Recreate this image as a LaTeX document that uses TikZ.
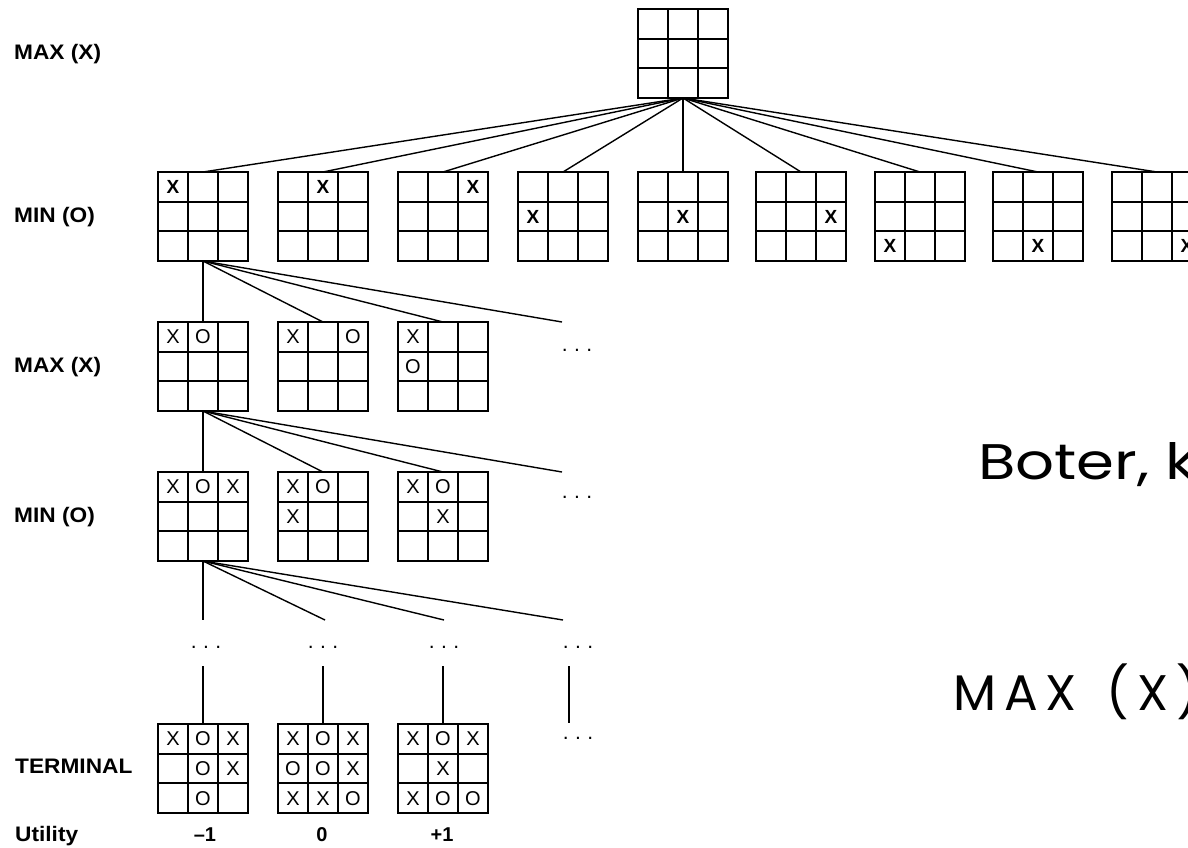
\documentclass[tikz,border=0pt]{standalone}
\usepackage{fontspec}
\usepackage{graphicx}
\setmainfont{Liberation Sans}
\newfontfamily\lblfont[FakeStretch=1.08]{Liberation Sans}
\newfontfamily\bigfont{Poppins}
\usetikzlibrary{calc}

\tikzset{
 board/.style={draw, line width=1.8pt, minimum width=90pt, minimum height=89pt, inner sep=0pt, outer sep=0pt},
 gridl/.style={line width=1.8pt},
 conn/.style={line width=1.4pt},
 xo/.style={inner sep=0pt, font=\fontsize{20}{20}\selectfont},
 xob/.style={inner sep=0pt, font=\fontsize{19}{19}\selectfont\bfseries},
 lvl/.style={anchor=base west, inner sep=0pt, font=\lblfont\fontsize{21}{21}\selectfont\bfseries},
 util/.style={anchor=base, inner sep=0pt, font=\fontsize{20}{20}\selectfont\bfseries},
 dotsn/.style={anchor=base, inner sep=0pt, font=\fontsize{21}{21}\selectfont},
 bigtxt/.style={anchor=base west, inner sep=0pt, font=\bigfont\fontsize{50}{50}\selectfont},
}

\newcommand{\ttt}[3]{%
 \node[board, anchor=north west] (#1) at (#2,#3) {};
 \draw[gridl] ($(#1.north west)!1/3!(#1.north east)$) -- ($(#1.south west)!1/3!(#1.south east)$);
 \draw[gridl] ($(#1.north west)!2/3!(#1.north east)$) -- ($(#1.south west)!2/3!(#1.south east)$);
 \draw[gridl] ($(#1.north west)!1/3!(#1.south west)$) -- ($(#1.north east)!1/3!(#1.south east)$);
 \draw[gridl] ($(#1.north west)!2/3!(#1.south west)$) -- ($(#1.north east)!2/3!(#1.south east)$);
}
\newcommand{\putxo}[5][xo]{\node[#1] at ($(#2.north west)+(#3*30+15,#4*29.67+14.83)$) {#5};}
\newcommand{\tdots}{.\hskip6.5pt.\hskip6.5pt.}

\begin{document}
\begin{tikzpicture}[x=1pt,y=-1pt]
\fill[white] (0,0) rectangle (1188,847);
\useasboundingbox (0,0) rectangle (1188,847);

% level labels
\node[lvl] (L0) at (14,59) {MAX (X)};
\node[lvl] (L1) at (14,222) {MIN (O)};
\node[lvl] (L2) at (14,372) {MAX (X)};
\node[lvl] (L3) at (14,522) {MIN (O)};
\node[lvl] (L4) at (15,773) {TERMINAL};
\node[lvl] (L5) at (15,841) {Utility};

% root
\ttt{top}{638}{9}

% level 1
\ttt{m1}{158}{172}
\ttt{m2}{278}{172}
\ttt{m3}{398}{172}
\ttt{m4}{518}{172}
\ttt{m5}{638}{172}
\ttt{m6}{756}{172}
\ttt{m7}{875}{172}
\ttt{m8}{993}{172}
\ttt{m9}{1112}{172}
\putxo[xob]{m1}{0}{0}{X}
\putxo[xob]{m2}{1}{0}{X}
\putxo[xob]{m3}{2}{0}{X}
\putxo[xob]{m4}{0}{1}{X}
\putxo[xob]{m5}{1}{1}{X}
\putxo[xob]{m6}{2}{1}{X}
\putxo[xob]{m7}{0}{2}{X}
\putxo[xob]{m8}{1}{2}{X}
\putxo[xob]{m9}{2}{2}{X}
\foreach \i in {1,...,9} \draw[conn] (top.south) -- (m\i.north);

% level 2
\ttt{a1}{158}{322}
\ttt{a2}{278}{322}
\ttt{a3}{398}{322}
\putxo{a1}{0}{0}{X}\putxo{a1}{1}{0}{O}
\putxo{a2}{0}{0}{X}\putxo{a2}{2}{0}{O}
\putxo{a3}{0}{0}{X}\putxo{a3}{0}{1}{O}
\coordinate (adots) at (562,322);
\node[dotsn] (ad) at (577,351) {\tdots};
\draw[conn] (m1.south) -- (a1.north);
\draw[conn] (m1.south) -- (a2.north);
\draw[conn] (m1.south) -- (a3.north);
\draw[conn] (m1.south) -- (adots);

% level 3
\ttt{b1}{158}{472}
\ttt{b2}{278}{472}
\ttt{b3}{398}{472}
\putxo{b1}{0}{0}{X}\putxo{b1}{1}{0}{O}\putxo{b1}{2}{0}{X}
\putxo{b2}{0}{0}{X}\putxo{b2}{1}{0}{O}\putxo{b2}{0}{1}{X}
\putxo{b3}{0}{0}{X}\putxo{b3}{1}{0}{O}\putxo{b3}{1}{1}{X}
\coordinate (bdots) at (562,472);
\node[dotsn] (bd) at (577,498) {\tdots};
\draw[conn] (a1.south) -- (b1.north);
\draw[conn] (a1.south) -- (b2.north);
\draw[conn] (a1.south) -- (b3.north);
\draw[conn] (a1.south) -- (bdots);

% ellipsis row
\coordinate (c1) at (203,620);
\coordinate (c2) at (325,620);
\coordinate (c3) at (444,620);
\coordinate (c4) at (563,620);
\foreach \i in {1,...,4} \draw[conn] (b1.south) -- (c\i);
\node[dotsn] (d1) at (206,648) {\tdots};
\node[dotsn] (d2) at (323,648) {\tdots};
\node[dotsn] (d3) at (444,648) {\tdots};
\node[dotsn] (d4) at (578,648) {\tdots};

% terminal
\ttt{t1}{158}{724}
\ttt{t2}{278}{724}
\ttt{t3}{398}{724}
\putxo{t1}{0}{0}{X}\putxo{t1}{1}{0}{O}\putxo{t1}{2}{0}{X}
\putxo{t1}{1}{1}{O}\putxo{t1}{2}{1}{X}
\putxo{t1}{1}{2}{O}
\putxo{t2}{0}{0}{X}\putxo{t2}{1}{0}{O}\putxo{t2}{2}{0}{X}
\putxo{t2}{0}{1}{O}\putxo{t2}{1}{1}{O}\putxo{t2}{2}{1}{X}
\putxo{t2}{0}{2}{X}\putxo{t2}{1}{2}{X}\putxo{t2}{2}{2}{O}
\putxo{t3}{0}{0}{X}\putxo{t3}{1}{0}{O}\putxo{t3}{2}{0}{X}
\putxo{t3}{1}{1}{X}
\putxo{t3}{0}{2}{X}\putxo{t3}{1}{2}{O}\putxo{t3}{2}{2}{O}
\coordinate (e1) at (203,666);
\coordinate (e2) at (323,666);
\coordinate (e3) at (443,666);
\coordinate (e4) at (569,666);
\coordinate (f4) at (569,723);
\draw[conn] (e1) -- (t1.north);
\draw[conn] (e2) -- (t2.north);
\draw[conn] (e3) -- (t3.north);
\draw[conn] (e4) -- (f4);
\node[dotsn] (d5) at (578,739) {\tdots};

% utilities
\node[util] (u1) at (205,841) {\textendash1};
\node[util] (u2) at (322,841) {0};
\node[util] (u3) at (442,841) {+1};

% overlay text
\node[bigtxt] (bk) at (978,479) {\scalebox{1.22}[1]{Boter, kaas en eieren}};
\node[bigtxt] (bm) at (953,710) {M\kern8pt A\kern8pt X\kern8pt\ \kern8pt(\kern8pt X\kern8pt)};
\end{tikzpicture}
\end{document}
